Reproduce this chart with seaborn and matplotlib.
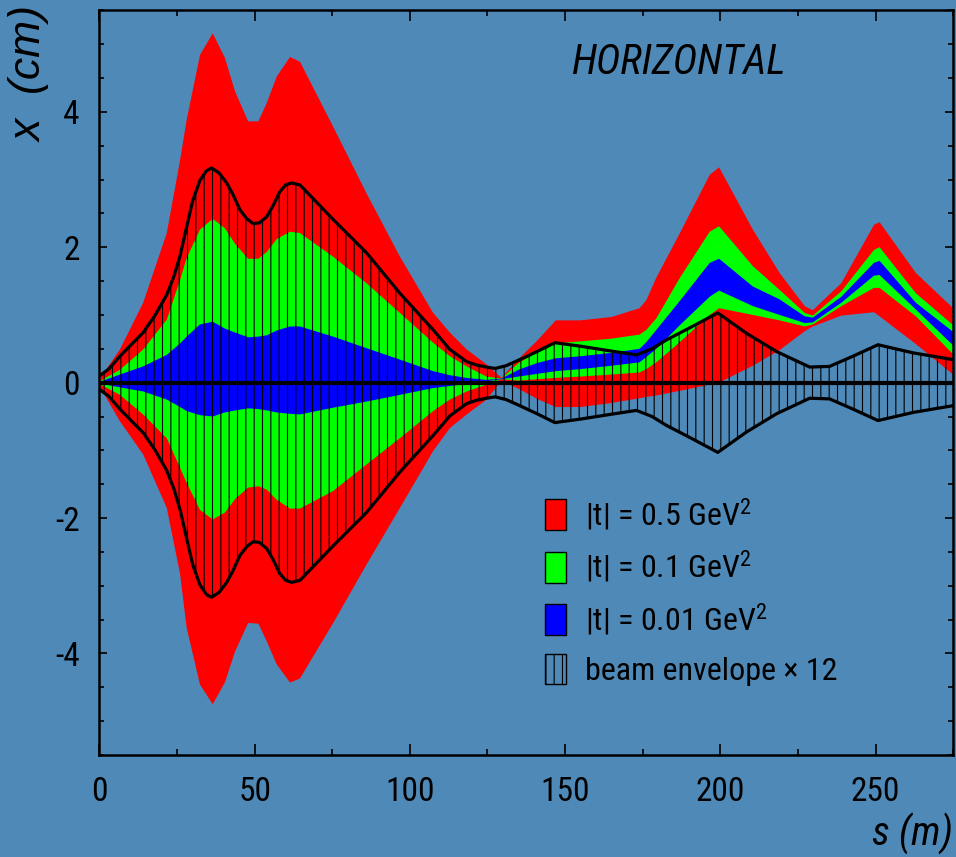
import numpy as np
import pandas as pd
import matplotlib
matplotlib.use("Agg")
import matplotlib.pyplot as plt
from matplotlib import font_manager as fm
from matplotlib.patches import Patch
from matplotlib.ticker import MultipleLocator
import seaborn as sns

# ---------------- data ----------------
s_env = [0, 3, 6.6, 10, 14.1, 18, 21.7, 24, 26, 28, 30, 32.4, 34.5, 36.1, 38.5, 41, 43,
         45.3, 47.5, 49.5, 51.5, 53.9, 56, 58.1, 60, 61.9, 64.6, 75.3, 86, 96.8, 107.5,
         112.9, 118.3, 121.5, 124.7, 127.5, 131, 135.4, 141, 146.7, 154.7, 163, 173, 178,
         182.6, 191, 199.2, 208.4, 218.1, 228.8, 235.2, 242.7, 250.8, 262.1, 275]
env = [0.1, 0.2, 0.39, 0.55, 0.74, 1.0, 1.3, 1.57, 1.88, 2.28, 2.68, 2.99, 3.13, 3.17, 3.1, 2.95, 2.78,
       2.55, 2.42, 2.35, 2.36, 2.45, 2.62, 2.82, 2.92, 2.95, 2.92, 2.41, 1.92, 1.32, 0.78,
       0.49, 0.31, 0.26, 0.23, 0.21, 0.25, 0.34, 0.46, 0.59, 0.54, 0.48, 0.41, 0.5,
       0.63, 0.83, 1.03, 0.73, 0.46, 0.23, 0.24, 0.39, 0.56, 0.44, 0.34]

s_band = [0, 6.6, 14.1, 21.7, 26, 28.1, 32.4, 36.5, 40.4, 43.7, 47.9, 51.2, 53.9, 57.1, 61.4,
          64.6, 75.3, 86, 96.8, 107.5, 112.9, 118.3, 124.7, 129.5, 135, 141, 147, 155, 165,
          174, 176.2, 179.4, 187, 196.6, 199.6, 210.5, 219.1, 227.2, 229.8, 239, 249.5, 251.3,
          263, 275]

red_hi = [0.05, 0.49, 1.18, 2.21, 3.29, 3.88, 4.84, 5.16, 4.8, 4.3, 3.86, 3.86, 4.13, 4.52, 4.81,
          4.74, 3.78, 2.8, 1.86, 1.03, 0.74, 0.49, 0.27, 0.07, 0.35, 0.62, 0.92, 0.92, 0.97,
          1.1, 1.22, 1.55, 2.21, 3.07, 3.18, 2.26, 1.62, 1.13, 1.07, 1.47, 2.33, 2.37,
          1.62, 1.1]
red_lo = [-0.05, -0.57, -1.06, -1.85, -2.83, -3.62, -4.46, -4.75, -4.43, -3.97, -3.55, -3.56, -3.82, -4.16, -4.43,
          -4.37, -3.55, -2.69, -1.85, -1.01, -0.67, -0.47, -0.25, 0.03, -0.09, -0.24, -0.36, -0.36, -0.3,
          -0.23, -0.21, -0.19, -0.12, -0.03, 0.0, 0.25, 0.48, 0.76, 0.83, 0.99, 1.04, 0.98,
          0.57, 0.12]
green_hi = [0.02, 0.19, 0.49, 0.93, 1.52, 1.84, 2.26, 2.42, 2.28, 2.05, 1.83, 1.83, 1.93, 2.12, 2.23,
            2.21, 1.86, 1.47, 1.03, 0.59, 0.39, 0.24, 0.09, 0.06, 0.29, 0.45, 0.58, 0.61, 0.65,
            0.71, 0.78, 0.95, 1.55, 2.23, 2.31, 1.72, 1.37, 1.03, 0.99, 1.35, 1.96, 2.0,
            1.32, 0.85]
green_lo = [-0.02, -0.18, -0.47, -0.82, -1.26, -1.48, -1.88, -2.02, -1.92, -1.72, -1.55, -1.53, -1.58, -1.73, -1.86,
            -1.86, -1.6, -1.21, -0.82, -0.42, -0.25, -0.13, -0.03, 0.05, 0.03, 0.05, 0.07, 0.09, 0.12,
            0.15, 0.2, 0.3, 0.6, 1.0, 1.1, 1.0, 0.92, 0.83, 0.86, 1.13, 1.4, 1.4,
            0.98, 0.42]
blue_hi = [0.01, 0.12, 0.24, 0.41, 0.58, 0.68, 0.86, 0.9, 0.8, 0.74, 0.67, 0.68, 0.7, 0.77, 0.83,
           0.83, 0.68, 0.51, 0.34, 0.17, 0.11, 0.07, 0.04, 0.06, 0.19, 0.29, 0.36, 0.39, 0.44,
           0.5, 0.6, 0.78, 1.21, 1.77, 1.83, 1.42, 1.23, 0.98, 0.96, 1.27, 1.77, 1.8,
           1.18, 0.75]
blue_lo = [-0.01, -0.07, -0.13, -0.25, -0.36, -0.42, -0.48, -0.5, -0.44, -0.41, -0.38, -0.39, -0.41, -0.44, -0.46,
           -0.47, -0.37, -0.28, -0.18, -0.08, -0.05, -0.02, 0.02, 0.05, 0.09, 0.13, 0.17, 0.2, 0.25,
           0.3, 0.38, 0.5, 0.85, 1.27, 1.36, 1.13, 1.0, 0.88, 0.89, 1.18, 1.58, 1.59,
           1.08, 0.55]

legend_labels = [r"|t| = 0.5 GeV$^{2}$", r"|t| = 0.1 GeV$^{2}$",
                 r"|t| = 0.01 GeV$^{2}$", "beam envelope \u00d7 12"]
band_colors = ["#ff0000", "#00ff00", "#0000ff"]

# ---------------- style ----------------
BG = "#4f89b7"
sns.set_theme(style="ticks")


def pick_font():
    entries = fm.fontManager.ttflist
    for e in entries:
        if e.name == "Liberation Sans Narrow":
            return e.name, "normal"
    for want in ["Roboto Condensed", "Open Sans Condensed", "Noto Sans Condensed",
                 "DejaVu Sans Condensed", "Arial Narrow"]:
        for e in entries:
            if e.name == want:
                return e.name, "normal"
    for fam in ["Liberation Sans", "Noto Sans", "Roboto", "Open Sans", "DejaVu Sans", "Inter"]:
        for e in entries:
            st = str(e.stretch).lower()
            if e.name == fam and ("condensed" in st or st in ("300", "400", "200")) \
                    and "semi" not in st:
                return e.name, "condensed"
    for fam in ["Liberation Sans", "Noto Sans", "Roboto", "Open Sans", "DejaVu Sans", "Inter"]:
        for e in entries:
            st = str(e.stretch).lower()
            if e.name == fam and "condensed" in st:
                return e.name, "semi-condensed"
    return "Liberation Sans", "normal"


FONT, STRETCH = pick_font()
plt.rcParams["font.family"] = [FONT, "DejaVu Sans"]
plt.rcParams["font.stretch"] = STRETCH
plt.rcParams["mathtext.fontset"] = "custom"
plt.rcParams["mathtext.rm"] = f"{FONT}:stretch={STRETCH}"
plt.rcParams["mathtext.it"] = f"{FONT}:italic:stretch={STRETCH}"
plt.rcParams["axes.unicode_minus"] = False
plt.rcParams["text.color"] = "black"
plt.rcParams["axes.labelcolor"] = "black"
plt.rcParams["xtick.color"] = "black"
plt.rcParams["ytick.color"] = "black"
plt.rcParams["hatch.linewidth"] = 0.8

fig = plt.figure(figsize=(9.56, 8.57), dpi=100, facecolor=BG)
ax = fig.add_axes([0.104, 0.119, 0.893, 0.869])
ax.set_facecolor(BG)

band_df = pd.DataFrame({"s": s_band, "red_hi": red_hi, "red_lo": red_lo,
                        "green_hi": green_hi, "green_lo": green_lo,
                        "blue_hi": blue_hi, "blue_lo": blue_lo})
env_df = pd.DataFrame({"s": s_env, "up": env, "down": [-v for v in env]})

for name, col in zip(["red", "green", "blue"], band_colors):
    ax.fill_between(band_df["s"], band_df[name + "_lo"], band_df[name + "_hi"],
                    facecolor=col, edgecolor="none", linewidth=0, zorder=2)

ax.fill_between(env_df["s"], env_df["down"], env_df["up"], facecolor="none",
                edgecolor="black", hatch="||", linewidth=0, zorder=3)
sns.lineplot(data=env_df, x="s", y="up", color="black", linewidth=2.3, ax=ax, zorder=4)
sns.lineplot(data=env_df, x="s", y="down", color="black", linewidth=2.3, ax=ax, zorder=4)
ax.axhline(0, color="black", linewidth=3, zorder=5)

ax.set_xlim(0, 275)
ax.set_ylim(-5.5, 5.5)
ax.xaxis.set_major_locator(MultipleLocator(50))
ax.xaxis.set_minor_locator(MultipleLocator(25))
ax.yaxis.set_major_locator(MultipleLocator(2))
ax.yaxis.set_minor_locator(MultipleLocator(0.5))
ax.tick_params(which="both", direction="in", top=True, right=True, colors="black",
               labelsize=24, width=1.2)
ax.tick_params(axis="x", which="major", length=8, pad=15)
ax.tick_params(axis="x", which="minor", length=4)
ax.tick_params(axis="y", which="major", length=6, pad=14)
ax.tick_params(axis="y", which="minor", length=3.5)
for sp in ax.spines.values():
    sp.set_color("black")
    sp.set_linewidth(1.8)
    sp.set_visible(True)
ax.set_xlabel("")
ax.set_ylabel("")

fig.text(30 / 956, 1 - 6 / 857, "x  (cm)", rotation=90, ha="center", va="top",
         fontsize=32, fontstyle="italic", family=["Liberation Sans", "DejaVu Sans"],
         stretch="normal")
fig.text(0.997, 0.013, "s (m)", ha="right", va="baseline", fontsize=29,
         fontstyle="italic")
ax.text(0.678, 0.930, "HORIZONTAL", transform=ax.transAxes, ha="center", va="center",
        fontsize=30, fontstyle="italic")

handles = [Patch(facecolor=c, edgecolor="black", linewidth=1) for c in band_colors]
handles.append(Patch(facecolor="none", edgecolor="black", hatch="||", linewidth=1))
ax.legend(handles, legend_labels, loc="upper left", bbox_to_anchor=(0.570, 0.421),
          bbox_transform=fig.transFigure, frameon=False, fontsize=23,
          handlelength=0.65, handleheight=1.1, handletextpad=0.6, labelspacing=0.5,
          borderaxespad=0, borderpad=0)

fig.savefig("out.png", dpi=100, facecolor=BG)
